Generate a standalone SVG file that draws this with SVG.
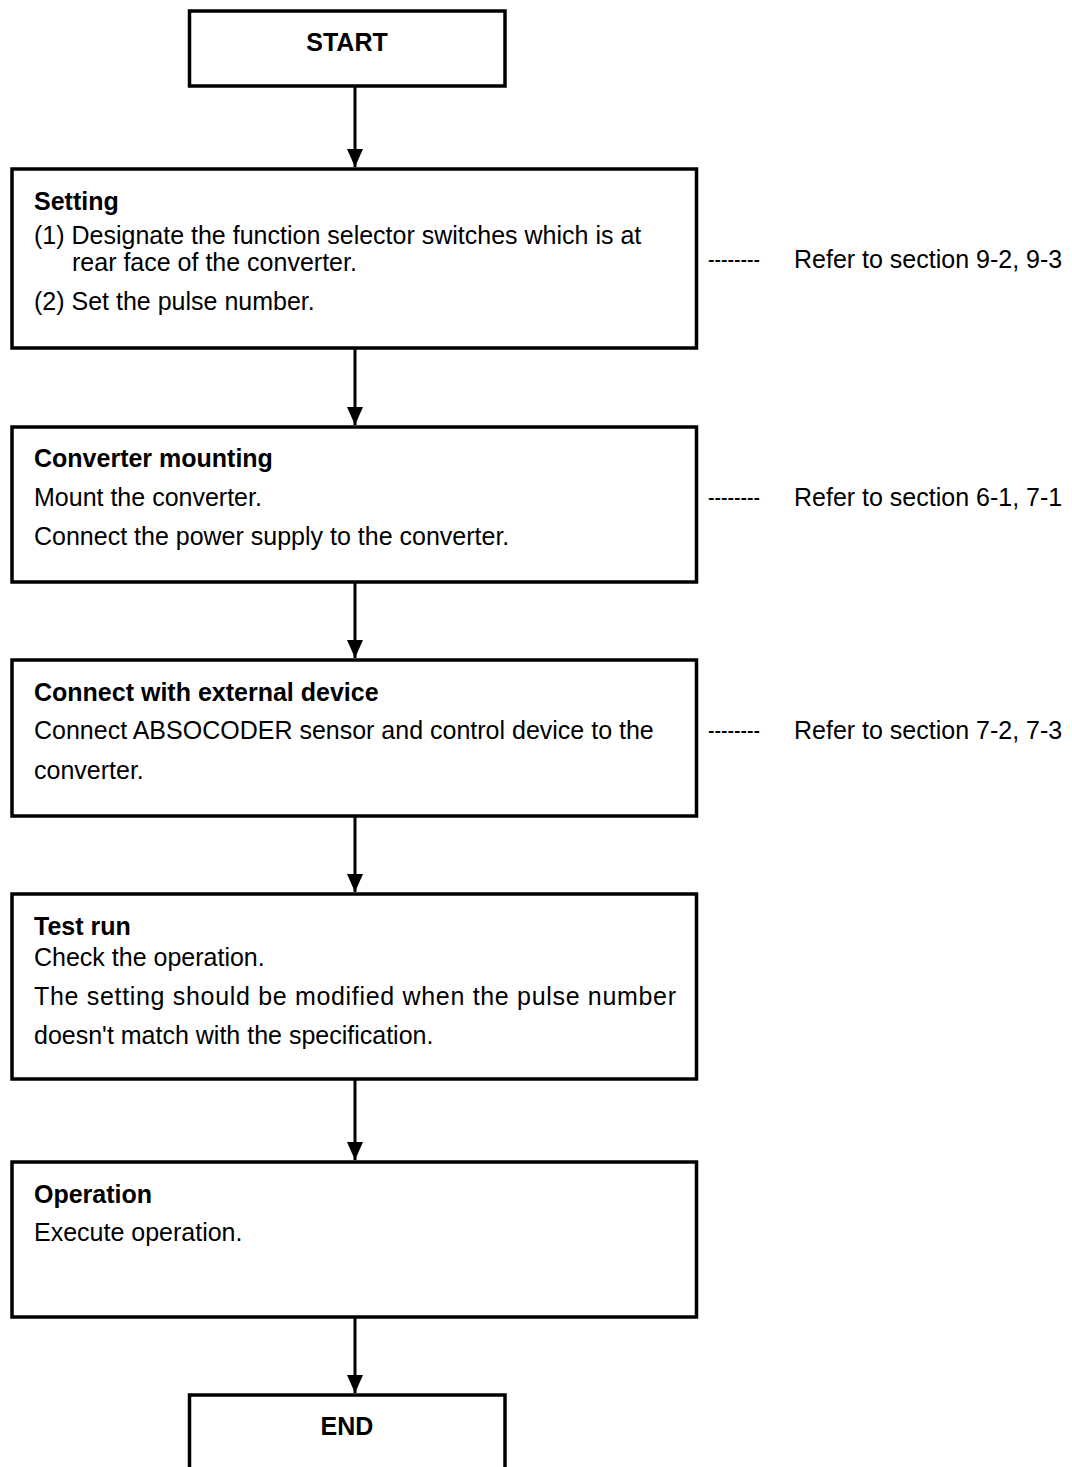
<svg xmlns="http://www.w3.org/2000/svg" width="1072" height="1467" viewBox="0 0 1072 1467">
<style>
text{font-family:"Liberation Sans",Arial,sans-serif;font-size:25px;fill:#000}
.b{font-weight:bold}
.box{fill:#fff;stroke:#000;stroke-width:3.5}
.ln{stroke:#000;stroke-width:3;fill:none}
</style>
<defs>
<marker id="ah" markerWidth="18" markerHeight="18" viewBox="0 0 18 18" refX="18" refY="9" orient="auto" markerUnits="userSpaceOnUse">
<path d="M0,1 L18,9 L0,17 Z" fill="#000"/>
</marker>
</defs>
<rect width="1072" height="1467" fill="#fff"/>
<g id="connectors">
<line class="ln" x1="355" y1="87" x2="355" y2="167" marker-end="url(#ah)"/>
<line class="ln" x1="355" y1="349" x2="355" y2="425" marker-end="url(#ah)"/>
<line class="ln" x1="355" y1="583" x2="355" y2="658" marker-end="url(#ah)"/>
<line class="ln" x1="355" y1="817" x2="355" y2="892" marker-end="url(#ah)"/>
<line class="ln" x1="355" y1="1080" x2="355" y2="1160" marker-end="url(#ah)"/>
<line class="ln" x1="355" y1="1318" x2="355" y2="1393" marker-end="url(#ah)"/>
</g>
<g id="start">
<rect class="box" x="189.5" y="11" width="315.5" height="75"/>
<text class="b" x="347" y="51" text-anchor="middle">START</text>
</g>
<g id="setting">
<rect class="box" x="12" y="169" width="684.5" height="179"/>
<text class="b" x="34" y="210">Setting</text>
<text x="34" y="244">(1) Designate the function selector switches which is at</text>
<text x="72" y="271">rear face of the converter.</text>
<text x="34" y="310">(2) Set the pulse number.</text>
</g>
<g id="mounting">
<rect class="box" x="12" y="427" width="684.5" height="155"/>
<text class="b" x="34" y="467">Converter mounting</text>
<text x="34" y="506">Mount the converter.</text>
<text x="34" y="545">Connect the power supply to the converter.</text>
</g>
<g id="external">
<rect class="box" x="12" y="660" width="684.5" height="156"/>
<text class="b" x="34" y="701">Connect with external device</text>
<text x="34" y="739">Connect ABSOCODER sensor and control device to the</text>
<text x="34" y="779">converter.</text>
</g>
<g id="testrun">
<rect class="box" x="12" y="894" width="684.5" height="185"/>
<text class="b" x="34" y="935">Test run</text>
<text x="34" y="966">Check the operation.</text>
<text x="34" y="1005" textLength="642" lengthAdjust="spacing">The setting should be modified when the pulse number</text>
<text x="34" y="1044">doesn't match with the specification.</text>
</g>
<g id="operation">
<rect class="box" x="12" y="1162" width="684.5" height="155"/>
<text class="b" x="34" y="1203">Operation</text>
<text x="34" y="1241">Execute operation.</text>
</g>
<g id="end">
<rect class="box" x="189.5" y="1395" width="315.5" height="90"/>
<text class="b" x="347" y="1435" text-anchor="middle">END</text>
</g>
<g id="notes">
<text x="708" y="268" textLength="52" lengthAdjust="spacingAndGlyphs">--------</text>
<text x="794" y="268">Refer to section 9-2, 9-3</text>
<text x="708" y="506" textLength="52" lengthAdjust="spacingAndGlyphs">--------</text>
<text x="794" y="506">Refer to section 6-1, 7-1</text>
<text x="708" y="739" textLength="52" lengthAdjust="spacingAndGlyphs">--------</text>
<text x="794" y="739">Refer to section 7-2, 7-3</text>
</g>
</svg>
